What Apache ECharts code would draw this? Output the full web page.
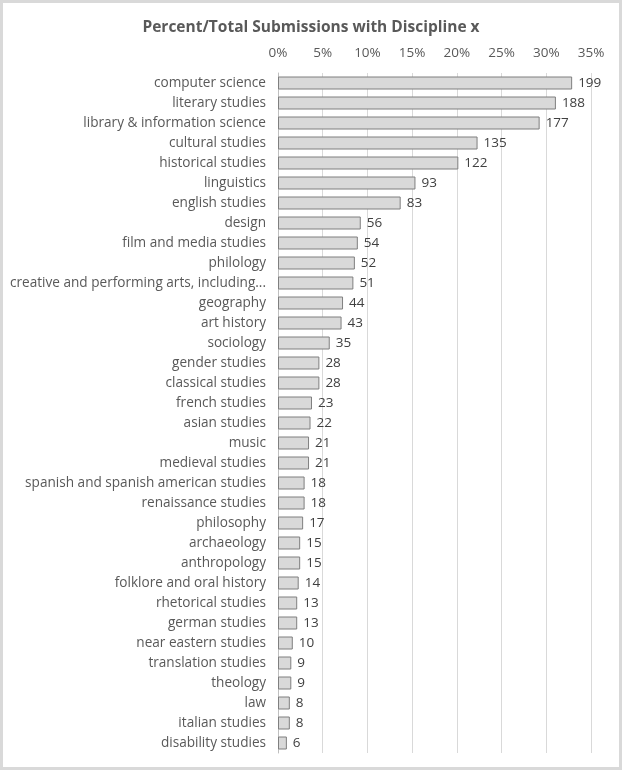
<!DOCTYPE html>
<html><head><meta charset="utf-8">
<script src="https://cdn.jsdelivr.net/npm/echarts@6/dist/echarts.min.js"></script>
<style>html,body{margin:0;padding:0;background:#fff}#c{width:622px;height:770px;box-sizing:border-box;border:3px solid #d9d9d9}</style>
</head><body><div id="c"></div>
<script>
const categories = ["computer science","literary studies","library & information science","cultural studies","historical studies","linguistics","english studies","design","film and media studies","philology","creative and performing arts, including...","geography","art history","sociology","gender studies","classical studies","french studies","asian studies","music","medieval studies","spanish and spanish american studies","renaissance studies","philosophy","archaeology","anthropology","folklore and oral history","rhetorical studies","german studies","near eastern studies","translation studies","theology","law","italian studies","disability studies"];
const counts = [199,188,177,135,122,93,83,56,54,52,51,44,43,35,28,28,23,22,21,21,18,18,17,15,15,14,13,13,10,9,9,8,8,6];
const totalSubmissions = 605;
const tickLabels = ["0%","5%","10%","15%","20%","25%","30%","35%"];
const percents = counts.map(c => c / totalSubmissions * 100);

const chart = echarts.init(document.getElementById('c'));
const font = "'Open Sans', sans-serif";
chart.setOption({
  animation: false,
  title: {text: 'Percent/Total Submissions with Discipline x', left: 'center', top: 12,
    textStyle: {fontFamily: font, fontSize: 15.5, fontWeight: 'bold', color: '#595959'}},
  grid: {left: 275, right: 28, top: 70, bottom: 14, containLabel: false},
  xAxis: {type: 'value', position: 'top', min: 0, max: 35, interval: 5,
    axisLine: {show: false}, axisTick: {show: false},
    axisLabel: {color: '#595959', fontFamily: font, fontSize: 13.5, margin: 13,
      formatter: v => tickLabels[Math.round(v / 5)]},
    splitLine: {lineStyle: {color: '#d9d9d9', width: 1}}},
  yAxis: {type: 'category', inverse: true, data: categories,
    axisLine: {lineStyle: {color: '#bfbfbf'}}, axisTick: {show: false},
    axisLabel: {color: '#595959', fontFamily: font, fontSize: 13.6, margin: 12, interval: 0}},
  series: [{type: 'bar', data: percents, barCategoryGap: '35%',
    itemStyle: {color: '#d9d9d9', borderColor: '#7f7f7f', borderWidth: 1},
    label: {show: true, position: 'right', distance: 6, color: '#404040', fontFamily: font, fontSize: 13.5,
      formatter: p => counts[p.dataIndex]}}]
});
</script></body></html>
